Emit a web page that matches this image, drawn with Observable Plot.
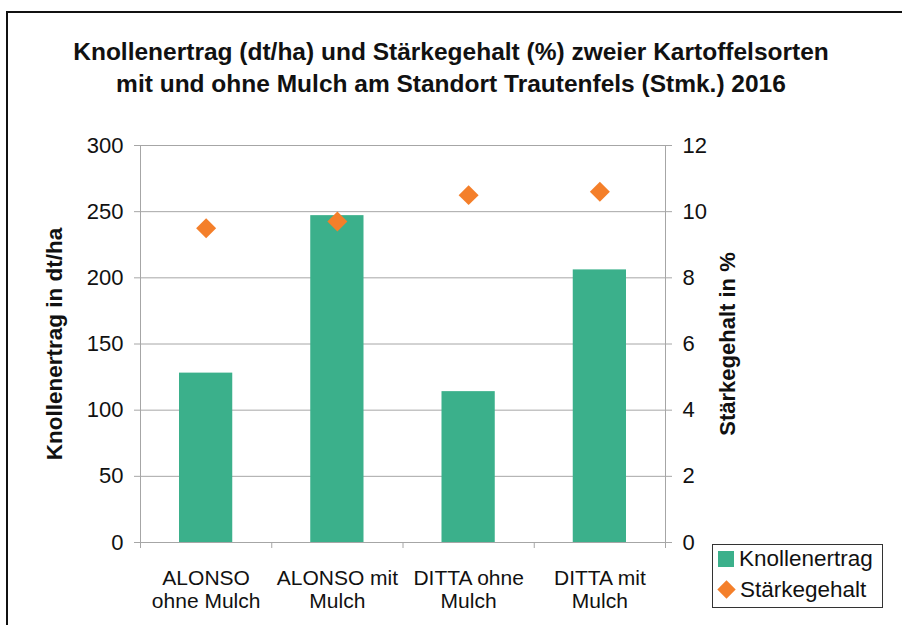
<!DOCTYPE html>
<html>
<head>
<meta charset="utf-8">
<script src="https://cdn.jsdelivr.net/npm/d3@7"></script>
<script src="https://cdn.jsdelivr.net/npm/@observablehq/plot@0.6"></script>
<style>
  html, body { margin: 0; padding: 0; background: #fff; }
  #wrap { position: relative; width: 902px; height: 625px; overflow: hidden; font-family: "Liberation Sans", Arial, sans-serif; }
  #border { position: absolute; left: 6px; top: 11px; width: 910px; height: 700px; border: 2px solid #111; box-sizing: border-box; }
  #title { position: absolute; left: 0; top: 36px; width: 902px; text-align: center; font-weight: bold; font-size: 24.5px; line-height: 32px; color: #111; }
  #chart { position: absolute; left: 0; top: 0; }
  #legend { position: absolute; left: 712px; top: 544px; width: 171px; height: 64px; border: 1px solid #333; box-sizing: border-box; background: #fff; font-size: 22.5px; color: #111; white-space: nowrap; }
  .item { position: absolute; left: 5px; height: 24px; line-height: 24px; }
  .sw { display: inline-block; width: 16px; height: 16px; vertical-align: -1px; margin-right: 5px; }
  .dia { display: inline-block; width: 13px; height: 13px; transform: rotate(45deg); margin: 0 7px 0 2px; vertical-align: 1px; }
</style>
</head>
<body>
<div id="wrap">
  <div id="border"></div>
  <div id="chart"></div>
  <div id="title">Knollenertrag (dt/ha) und Stärkegehalt (%) zweier Kartoffelsorten<br>mit und ohne Mulch am Standort Trautenfels (Stmk.) 2016</div>
  <div id="legend">
    <div class="item" style="top:2px"><span class="sw" style="background:#3bb08b"></span>Knollenertrag</div>
    <div class="item" style="top:33px"><span class="dia" style="background:#f47f2a"></span>Stärkegehalt</div>
  </div>
</div>
<script>
const categories = ["ALONSO\nohne Mulch", "ALONSO mit\nMulch", "DITTA ohne\nMulch", "DITTA mit\nMulch"];
const knollenertrag = [128, 247, 114, 206];   // dt/ha, left axis
const staerkegehalt = [9.5, 9.7, 10.5, 10.6];  // %, right axis
const leftTicks = [0, 50, 100, 150, 200, 250, 300];
const rightTicks = [0, 2, 4, 6, 8, 10, 12];

const ratio = 300 / 12; // right axis mapped onto left scale
const data = categories.map((c, i) => ({i, cat: c, yield: knollenertrag[i], starch: staerkegehalt[i]}));

const gray = "#a6a6a6";
const chart = Plot.plot({
  width: 902,
  height: 625,
  marginLeft: 140,
  marginRight: 237,
  marginTop: 145,
  marginBottom: 83,
  style: {fontFamily: "Liberation Sans, Arial, sans-serif", fontSize: "22px", color: "#111", background: "transparent"},
  x: {domain: [0, categories.length]},
  y: {domain: [0, 300]},
  marks: [
    Plot.gridY(leftTicks, {stroke: gray, strokeOpacity: 1}),
    Plot.ruleX([0, categories.length], {y1: 0, y2: 300, stroke: gray}),
    Plot.rectY(data, {x1: d => d.i, x2: d => d.i + 1, y: "yield", fill: "#3bb08b", insetLeft: 39, insetRight: 39}),
    Plot.dot(data, {x: d => d.i + 0.5, y: d => d.starch * ratio, symbol: "diamond2", r: 9, fill: "#f47f2a", stroke: null}),
    Plot.axisY(leftTicks, {anchor: "left", tickSize: 6, tickPadding: 11, stroke: gray, label: null}),
    Plot.axisY(rightTicks.map(t => t * ratio), {anchor: "right", tickSize: 6, tickPadding: 11, stroke: gray, tickFormat: d => d / ratio, label: null}),
    Plot.axisX(d3.range(categories.length + 1), {tickSize: 6, stroke: gray, tickFormat: () => "", label: null}),
    Plot.axisX(data.map(d => d.i + 0.5), {tickSize: 0, tickPadding: 27, tickFormat: (d, k) => categories[k], fontSize: 21, lineHeight: 1.06, label: null}),
    Plot.text(["Stärkegehalt in %"], {frameAnchor: "right", dx: 62, rotate: -90, textAnchor: "middle", fontWeight: "bold", fontSize: 22}),
    Plot.text(["Knollenertrag in dt/ha"], {frameAnchor: "left", dx: -86, rotate: -90, textAnchor: "middle", fontWeight: "bold", fontSize: 22.5})
  ]
});
document.getElementById("chart").appendChild(chart);
</script>
</body>
</html>
